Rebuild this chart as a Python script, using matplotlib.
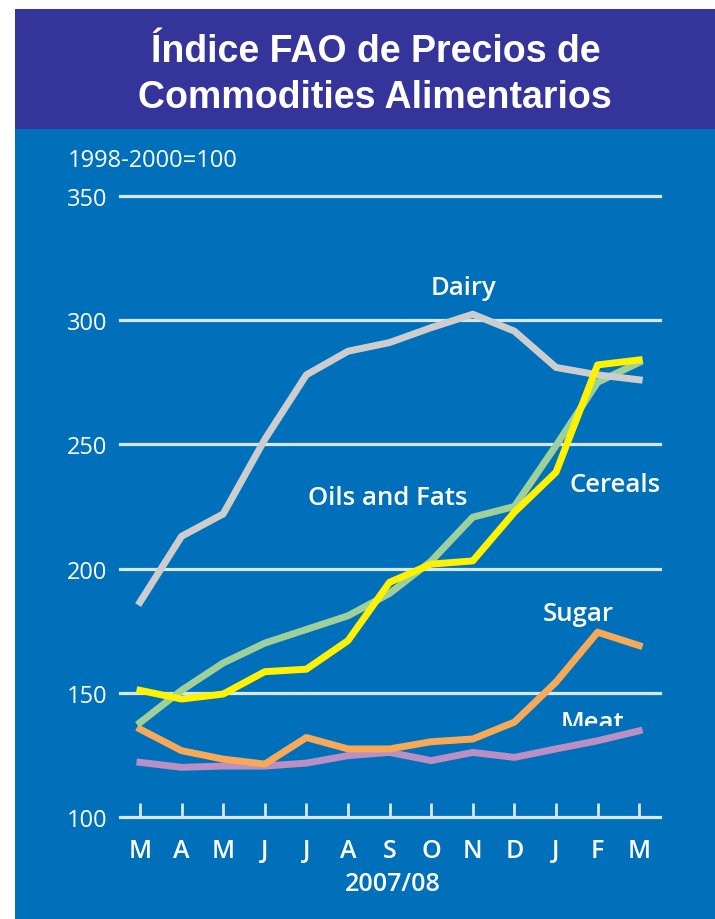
import numpy as np
import matplotlib.pyplot as plt
from matplotlib.patches import Rectangle
from matplotlib.transforms import Bbox, TransformedBbox

months = ['M', 'A', 'M', 'J', 'J', 'A', 'S', 'O', 'N', 'D', 'J', 'F', 'M']

dairy = [186.5, 213, 222, 252, 278, 287.5, 291, 297, 302.4, 295.6, 281, 278, 276]
oils = [138, 151, 162, 170, 175.5, 181, 190, 203, 220.7, 225, 249.5, 275, 283]
cereals = [151, 147.5, 149.5, 158.5, 159.5, 171, 194.5, 201.8, 203.1, 222.7, 238.8, 282, 284]
sugar = [135.4, 126.7, 123.3, 121.3, 132, 127.4, 127.4, 130.3, 131.4, 138.2, 154.3, 174.4, 169]
meat = [122, 120, 120.5, 120.5, 121.7, 124.7, 126, 122.7, 126, 124, 127.4, 130.7, 134.7]

yticks = [100, 150, 200, 250, 300, 350]

navy = '#35349A'
blue = '#0070BB'
grid_col = '#D6E8F6'
font = ['Open Sans', 'DejaVu Sans']
title_font = ['Liberation Sans', 'DejaVu Sans']

fig = plt.figure(figsize=(7.15, 9.2), dpi=100, facecolor='white')

# background panels (behind the axes)
fig.patches.append(Rectangle((15 / 715, 0), 1, 1 - 130 / 920, transform=fig.transFigure,
                             facecolor=blue, edgecolor='none', zorder=-2))
fig.patches.append(Rectangle((15 / 715, 1 - 130 / 920), 1, 120 / 920, transform=fig.transFigure,
                             facecolor=navy, edgecolor='none', zorder=-2))

fig.text(0.525, 1 - 52 / 920, 'Índice FAO de Precios de', ha='center', va='center',
         color='white', fontsize=27, fontweight='bold', family=title_font)
fig.text(0.525, 1 - 98 / 920, 'Commodities Alimentarios', ha='center', va='center',
         color='white', fontsize=27, fontweight='bold', family=title_font)

ax = fig.add_axes([120 / 715, 1 - 818 / 920, 540 / 715, (818 - 197) / 920])
ax.patch.set_alpha(0)
x = np.arange(len(months))
ax.set_xlim(-0.48, 12.5)
ax.set_ylim(100, 350)

for v in yticks[1:]:
    ax.axhline(v, color=grid_col, lw=2.3, zorder=1, clip_on=False)

lw = 5
ax.plot(x, meat, color='#B98FC4', lw=lw, zorder=3)
ax.plot(x, sugar, color='#F7A957', lw=lw, zorder=3)
ax.plot(x, oils, color='#9FD09A', lw=lw, zorder=3)
ax.plot(x, dairy, color='#CDCDCD', lw=lw, zorder=3)
ax.plot(x, cereals, color='#FFF200', lw=lw, zorder=3)

for s in ['top', 'right', 'left']:
    ax.spines[s].set_visible(False)
ax.spines['bottom'].set_color(grid_col)
ax.spines['bottom'].set_linewidth(2.3)

ax.set_xticks(x)
ax.set_xticklabels(months)
ax.set_yticks(yticks)
ax.tick_params(axis='x', direction='in', length=10, width=2, color=grid_col,
               labelsize=18, labelcolor='white', pad=15)
ax.tick_params(axis='y', length=0, labelsize=17, labelcolor='white', pad=9)
for lab in ax.get_xticklabels():
    lab.set_family(font)
    lab.set_fontweight('semibold')
for lab in ax.get_yticklabels():
    lab.set_family(font)

fig.text(68 / 715, 1 - 161 / 920, '1998-2000=100', ha='left', va='center',
         color='white', fontsize=17, family=font)

fig.text(393 / 715, 1 - 885 / 920, '2007/08', ha='center', va='center',
         color='white', fontsize=18, fontweight='semibold', family=font)

lab_kw = dict(color='white', fontsize=18.5, fontweight='semibold', family=font,
              ha='center', va='baseline', zorder=4)
ax.text(7.77, 310.4, 'Dairy', **lab_kw)
ax.text(5.96, 225.9, 'Oils and Fats', **lab_kw)
ax.text(11.42, 231.2, 'Cereals', **lab_kw)
ax.text(10.53, 179.3, 'Sugar', **lab_kw)
meat_lab = ax.text(10.88, 135.5, 'Meat', clip_on=True, **lab_kw)
# bottom of the Meat label is cut off in the original
meat_lab.set_clip_box(TransformedBbox(Bbox([[9.5, 136.5], [12.5, 150]]), ax.transData))

fig.savefig('out.png', dpi=100, facecolor='white')
